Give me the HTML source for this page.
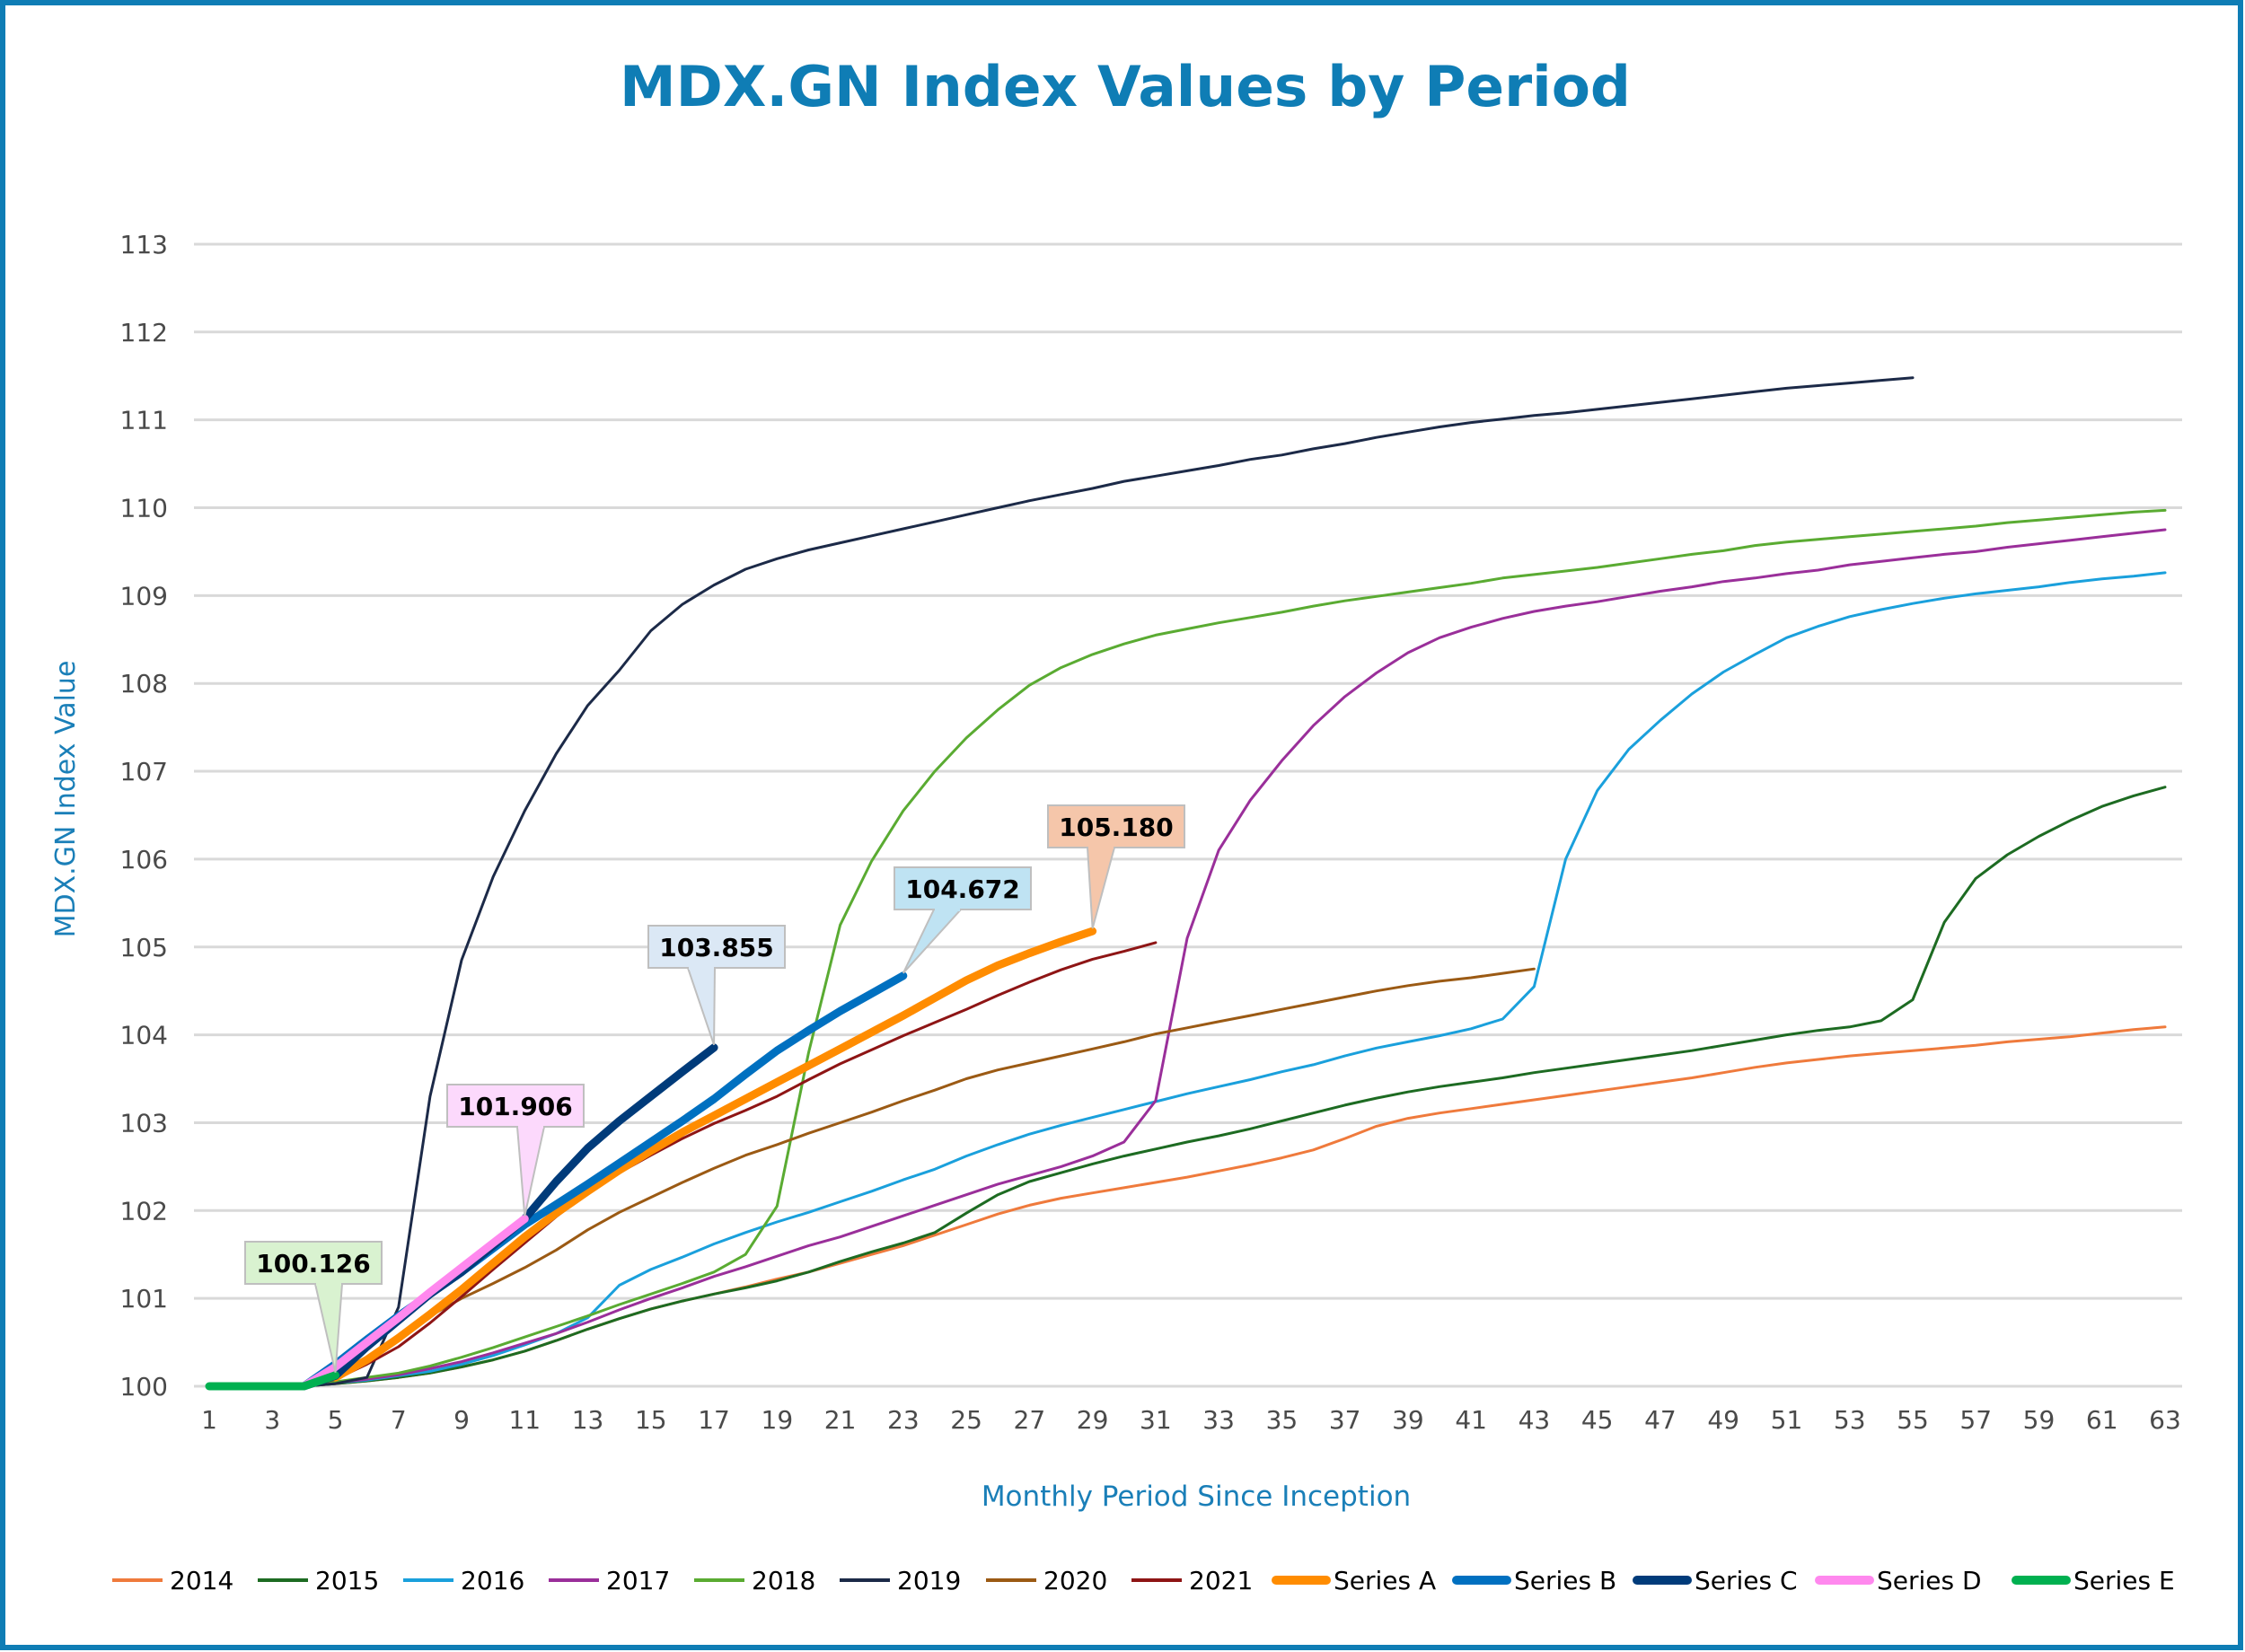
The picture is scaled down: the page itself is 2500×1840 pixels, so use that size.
<!DOCTYPE html>
<html><head><meta charset="utf-8"><style>
html,body{margin:0;padding:0;background:#fff}
svg{display:block}
text{font-family:"DejaVu Sans","Liberation Sans",sans-serif}
</style></head><body>
<svg id="chart" width="2500" height="1840" viewBox="0 0 2500 1840" xmlns="http://www.w3.org/2000/svg">
<rect x="3" y="3" width="2492" height="1832" fill="#fff" stroke="#0f7db5" stroke-width="6"/>
<text x="1253" y="118" text-anchor="middle" font-size="62" font-weight="bold" fill="#0f7db5" textLength="1126" lengthAdjust="spacingAndGlyphs">MDX.GN Index Values by Period</text>
<g id="grid"></g><g id="ylabels"></g><g id="xlabels"></g><g id="lines"></g><g id="callouts"></g><g id="legend"></g>
<text x="1332" y="1677" text-anchor="middle" font-size="31" fill="#1a7fb8">Monthly Period Since Inception</text>
<text transform="translate(83,890) rotate(-90)" text-anchor="middle" font-size="30" fill="#1a7fb8">MDX.GN Index Value</text>
</svg>
<script>
const yTicks=[100,101,102,103,104,105,106,107,108,109,110,111,112,113];
const xTicks=[1,3,5,7,9,11,13,15,17,19,21,23,25,27,29,31,33,35,37,39,41,43,45,47,49,51,53,55,57,59,61,63];
const s2014=[100,100,100,100,100.03,100.06,100.1,100.15,100.22,100.3,100.4,100.52,100.65,100.77,100.88,100.97,101.05,101.13,101.22,101.3,101.4,101.5,101.6,101.72,101.84,101.96,102.06,102.14,102.2,102.26,102.32,102.38,102.45,102.52,102.6,102.69,102.82,102.96,103.05,103.11,103.16,103.21,103.26,103.31,103.36,103.41,103.46,103.51,103.57,103.63,103.68,103.72,103.76,103.79,103.82,103.85,103.88,103.92,103.95,103.98,104.02,104.06,104.09];
const s2015=[100,100,100,100,100.03,100.06,100.1,100.15,100.22,100.3,100.4,100.52,100.65,100.77,100.88,100.97,101.05,101.12,101.2,101.3,101.42,101.53,101.63,101.75,101.97,102.18,102.33,102.43,102.53,102.62,102.7,102.78,102.85,102.93,103.02,103.11,103.2,103.28,103.35,103.41,103.46,103.51,103.57,103.62,103.67,103.72,103.77,103.82,103.88,103.94,104,104.05,104.09,104.16,104.4,105.28,105.78,106.05,106.26,106.44,106.6,106.72,106.82];
const s2016=[100,100,100,100,100.04,100.07,100.12,100.17,100.25,100.35,100.47,100.6,100.78,101.15,101.33,101.47,101.62,101.75,101.87,101.98,102.1,102.22,102.35,102.47,102.62,102.75,102.87,102.97,103.06,103.15,103.24,103.33,103.41,103.49,103.58,103.66,103.76,103.85,103.92,103.99,104.07,104.18,104.55,106,106.78,107.25,107.58,107.88,108.13,108.33,108.52,108.65,108.76,108.84,108.91,108.97,109.02,109.06,109.1,109.15,109.19,109.22,109.26];
const s2017=[100,100,100,100,100.04,100.08,100.13,100.2,100.28,100.38,100.49,100.6,100.73,100.87,101,101.12,101.25,101.36,101.48,101.6,101.7,101.82,101.94,102.06,102.18,102.3,102.4,102.5,102.62,102.78,103.25,105.1,106.1,106.67,107.12,107.52,107.85,108.12,108.35,108.52,108.64,108.74,108.82,108.88,108.93,108.99,109.05,109.1,109.16,109.2,109.25,109.29,109.35,109.39,109.43,109.47,109.5,109.55,109.59,109.63,109.67,109.71,109.75];
const s2018=[100,100,100,100,100.05,100.1,100.15,100.23,100.33,100.44,100.56,100.68,100.8,100.93,101.05,101.17,101.3,101.5,102.05,103.8,105.25,105.98,106.55,107,107.38,107.7,107.98,108.18,108.33,108.45,108.55,108.62,108.69,108.75,108.81,108.88,108.94,108.99,109.04,109.09,109.14,109.2,109.24,109.28,109.32,109.37,109.42,109.47,109.51,109.57,109.61,109.64,109.67,109.7,109.73,109.76,109.79,109.83,109.86,109.89,109.92,109.95,109.97];
const s2019=[100,100,100,100,100.03,100.1,100.9,103.3,104.85,105.8,106.55,107.2,107.75,108.15,108.6,108.9,109.12,109.3,109.42,109.52,109.6,109.68,109.76,109.84,109.92,110,110.08,110.15,110.22,110.3,110.36,110.42,110.48,110.55,110.6,110.67,110.73,110.8,110.86,110.92,110.97,111.01,111.05,111.08,111.12,111.16,111.2,111.24,111.28,111.32,111.36,111.39,111.42,111.45,111.48];
const s2020=[100,100,100,100,100.1,100.3,100.55,100.8,101,101.17,101.35,101.55,101.78,101.98,102.15,102.32,102.48,102.63,102.75,102.88,103,103.12,103.25,103.37,103.5,103.6,103.68,103.76,103.84,103.92,104.01,104.08,104.15,104.22,104.29,104.36,104.43,104.5,104.56,104.61,104.65,104.7,104.75];
const s2021=[100,100,100,100,100.08,100.25,100.45,100.72,101.02,101.33,101.63,101.93,102.2,102.43,102.63,102.82,102.99,103.14,103.3,103.49,103.67,103.83,103.99,104.14,104.29,104.45,104.6,104.74,104.86,104.95,105.05];
const seriesA=[null,null,null,null,100.1,100.3,100.55,100.82,101.1,101.4,101.7,101.97,102.22,102.46,102.68,102.89,103.08,103.27,103.46,103.65,103.84,104.03,104.22,104.42,104.62,104.79,104.93,105.06,105.18];
const seriesB=[null,null,null,100,100.25,100.53,100.8,101.05,101.3,101.57,101.84,102.07,102.3,102.54,102.78,103.02,103.27,103.55,103.82,104.05,104.27,104.47,104.672];
const seriesC=[null,null,null,100,100.12,100.45,100.75,101.05,101.3,101.6,101.906,102.33,102.71,103.02,103.3,103.58,103.855];
const seriesD=[null,null,null,100,100.22,100.5,100.78,101.07,101.35,101.63,101.906];
const seriesE=[100,100,100,100,100.126];
const names=["2014","2015","2016","2017","2018","2019","2020","2021","Series A","Series B","Series C","Series D","Series E"];
const allData=[s2014,s2015,s2016,s2017,s2018,s2019,s2020,s2021,seriesA,seriesB,seriesC,seriesD,seriesE];
const colors=["#ef7a3c","#1d6b22","#1aa0dc","#9a2f9a","#5aab32","#1c2a48","#9b5a14","#8e1515","#ff8c00","#0070c0","#003b7a","#ff88ee","#00b050"];
const widths=[3,3,3,3,3,3,3,3,9,9,9,9,9];
const callVals=[100.126,101.906,103.855,104.672,105.180];
const callPeriods=[5,11,17,23,29];
const callFills=["#d9f2d0","#fcd9fc","#dbe8f5","#bfe3f3","#f5c6aa"];
const callBoxX=[273,498,722,996,1167];
const callBoxY=[1383,1208,1031,966,897];

const NS="http://www.w3.org/2000/svg";
const X0=233,X1=2411,Y0=1544,PU=97.85;
function xs(p){return X0+(p-1)*(X1-X0)/62;}
function ys(v){return Y0-(v-100)*PU;}
function mk(tag,attrs,parent,txt){const e=document.createElementNS(NS,tag);for(const k in attrs)e.setAttribute(k,attrs[k]);if(txt!==undefined)e.textContent=txt;parent.appendChild(e);return e;}
const grid=document.getElementById('grid'),yl=document.getElementById('ylabels'),xl=document.getElementById('xlabels');
yTicks.forEach(v=>{
  const l=mk('line',{x1:216,x2:2430,y1:ys(v),y2:ys(v),stroke:'#d9d9d9','stroke-width':3},grid);
  
  
  const t=mk('text',{x:187,y:ys(v)+10,'text-anchor':'end','font-size':28,fill:'#4a4a4a'},yl,String(v));
  
  
});
xTicks.forEach(p=>{
  const t=mk('text',{x:xs(p),y:1591,'text-anchor':'middle','font-size':28,fill:'#4a4a4a'},xl,String(p));
  
  
});
const lines=document.getElementById('lines');
allData.forEach((d,i)=>{
  let pts=[];d.forEach((v,j)=>{if(v!==null)pts.push(xs(j+1).toFixed(1)+','+ys(v).toFixed(1));});
  const pl=mk('polyline',{points:pts.join(' '),fill:'none',stroke:colors[i],'stroke-width':widths[i],'stroke-linejoin':'round','stroke-linecap':'round'},lines);
  
  
});
const co=document.getElementById('callouts');
callVals.forEach((v,i)=>{
  const bx=callBoxX[i],by=callBoxY[i],w=152,h=47;
  const px=xs(callPeriods[i]),py=ys(v);
  const g=mk('g',{},co);
  
  
  const cx=bx+w/2;
  const tl=cx-(cx>px?32:-2), tr=cx+(cx>px?-2:32);
  mk('path',{d:`M${Math.min(tl,tr)},${by+h} L${px},${py-3} L${Math.max(tl,tr)},${by+h} Z`,fill:callFills[i],stroke:'#bfbfbf','stroke-width':2},g);
  mk('rect',{x:bx,y:by,width:w,height:h,fill:callFills[i],stroke:'#bfbfbf','stroke-width':2},g);
  mk('rect',{x:Math.min(tl,tr)+1,y:by+h-3,width:Math.abs(tr-tl)-2,height:5,fill:callFills[i]},g);
  mk('text',{x:cx,y:by+34,'text-anchor':'middle','font-size':28,'font-weight':'bold',fill:'#000'},g,v.toFixed(3));
});
const legX=[125,287,449,611,773,935,1098,1260,1421,1622,1823,2026,2245];
const lg=document.getElementById('legend');
names.forEach((n,i)=>{
  const g=mk('g',{},lg);
  
  
  mk('line',{x1:legX[i],x2:legX[i]+56,y1:1760,y2:1760,stroke:colors[i],'stroke-width':widths[i]===3?4:10,'stroke-linecap':widths[i]===3?'butt':'round'},g);
  mk('text',{x:legX[i]+64,y:1770,'font-size':28,fill:'#000'},g,n);
});
</script>
</body></html>
